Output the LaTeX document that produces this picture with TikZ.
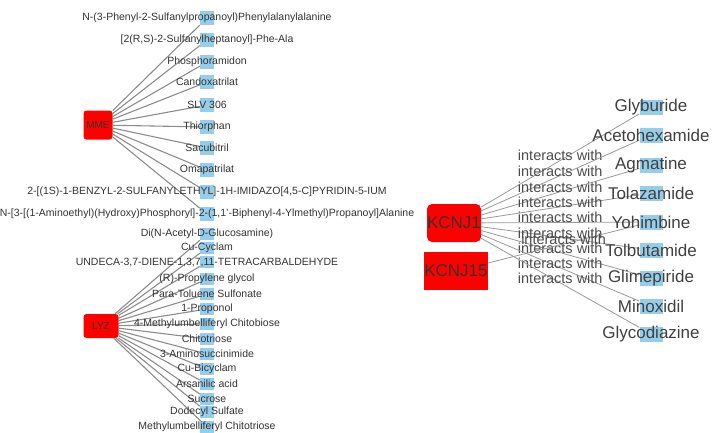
\documentclass[tikz,border=0pt]{standalone}
\usepackage{fontspec}
\setmainfont{Liberation Sans}
\definecolor{tb}{RGB}{150,205,235}
\begin{document}
\begin{tikzpicture}[x=1pt,y=-1pt,
  hub/.style={fill=red,draw=none,rounded corners=3pt,text=black!80,font=\fontsize{10}{10}\selectfont,inner sep=0pt},
  tgt/.style={fill=tb,draw=none,minimum width=14pt,minimum height=14pt,inner sep=0pt},
  tlab/.style={text=black!80,font=\fontsize{10.5}{11}\selectfont,inner sep=0pt},
  tgtR/.style={fill=tb,draw=none,minimum width=23pt,minimum height=15pt,inner sep=0pt},
  tlabR/.style={text=black!75,font=\fontsize{17}{17}\selectfont,inner sep=0pt},
  edge/.style={draw=black!45,line width=1.1pt},
  edgeR/.style={draw=black!40,line width=0.8pt},
  elab/.style={text=black!70,font=\fontsize{14.5}{15}\selectfont,inner sep=0pt,above=-1pt}]
\useasboundingbox (0,0) rectangle (720,432);
% MME
\node[hub,minimum width=29pt,minimum height=29pt] (mme) at (98,125) {MME};
\foreach \i/\y/\t in {1/18/{N-(3-Phenyl-2-Sulfanylpropanoyl)Phenylalanylalanine},
 2/40/{[2(R,S)-2-Sulfanylheptanoyl]-Phe-Ala},3/62/{Phosphoramidon},4/82/{Candoxatrilat},
 5/105/{SLV 306},6/127/{Thiorphan},7/148/{Sacubitril},8/170/{Omapatrilat},
 9/192/{2-[(1S)-1-BENZYL-2-SULFANYLETHYL]-1H-IMIDAZO[4,5-C]PYRIDIN-5-IUM},
 10/214/{N-[3-[(1-Aminoethyl)(Hydroxy)Phosphoryl]-2-(1,1'-Biphenyl-4-Ylmethyl)Propanoyl]Alanine}}{
  \node[tgt] (m\i) at (207,\y) {};
  \draw[edge] (mme) -- (m\i);
}
\foreach \i/\y/\t in {1/18/{N-(3-Phenyl-2-Sulfanylpropanoyl)Phenylalanylalanine},
 2/40/{[2(R,S)-2-Sulfanylheptanoyl]-Phe-Ala},3/62/{Phosphoramidon},4/82/{Candoxatrilat},
 5/105/{SLV 306},6/127/{Thiorphan},7/148/{Sacubitril},8/170/{Omapatrilat},
 9/192/{2-[(1S)-1-BENZYL-2-SULFANYLETHYL]-1H-IMIDAZO[4,5-C]PYRIDIN-5-IUM},
 10/214/{N-[3-[(1-Aminoethyl)(Hydroxy)Phosphoryl]-2-(1,1'-Biphenyl-4-Ylmethyl)Propanoyl]Alanine}}{
  \node[tlab] (ml\i) at (m\i) {\t};
}
% LYZ
\node[hub,minimum width=35pt,minimum height=24pt] (lyz) at (101,326) {LYZ};
\foreach \i/\y/\t in {1/234/{Di(N-Acetyl-D-Glucosamine)},2/248/{Cu-Cyclam},
 3/262/{UNDECA-3,7-DIENE-1,3,7,11-TETRACARBALDEHYDE},4/279/{(R)-Propylene glycol},
 5/294/{Para-Toluene Sulfonate},6/309/{1-Proponol},7/324/{4-Methylumbelliferyl Chitobiose},
 8/339/{Chitotriose},9/354/{3-Aminosuccinimide},10/369/{Cu-Bicyclam},11/384/{Arsanilic acid},
 12/399/{Sucrose},13/412/{Dodecyl Sulfate},14/427/{Methylumbelliferyl Chitotriose}}{
  \node[tgt,minimum height=12pt] (l\i) at (207,\y) {};
  \draw[edge] (lyz) -- (l\i);
}
\foreach \i/\y/\t in {1/234/{Di(N-Acetyl-D-Glucosamine)},2/248/{Cu-Cyclam},
 3/262/{UNDECA-3,7-DIENE-1,3,7,11-TETRACARBALDEHYDE},4/279/{(R)-Propylene glycol},
 5/294/{Para-Toluene Sulfonate},6/309/{1-Proponol},7/324/{4-Methylumbelliferyl Chitobiose},
 8/339/{Chitotriose},9/354/{3-Aminosuccinimide},10/369/{Cu-Bicyclam},11/384/{Arsanilic acid},
 12/399/{Sucrose},13/412/{Dodecyl Sulfate},14/427/{Methylumbelliferyl Chitotriose}}{
  \node[tlab] (ll\i) at (l\i) {\t};
}
% KCNJ
\node[hub,minimum width=54pt,minimum height=38pt,rounded corners=5pt,font=\fontsize{17}{17}\selectfont] (k1) at (454,223) {KCNJ1};
\node[hub,minimum width=54pt,minimum height=38pt,rounded corners=0pt,font=\fontsize{17}{17}\selectfont] (k15) at (456,271) {KCNJ15};
\foreach \i/\y in {1/107,2/135,3/165,4/193,5/222,6/250,7/278,8/306,9/334}{
  \node[tgtR] (r\i) at (651,\y) {};
  \draw[edgeR] (k1) -- node[elab] {interacts with} (r\i);
}
\draw[edgeR] (k15) -- node[elab] {interacts with} (r5);
\foreach \i/\t in {1/Glyburide,2/Acetohexamide,3/Agmatine,4/Tolazamide,5/Yohimbine,6/Tolbutamide,7/Glimepiride,8/Minoxidil,9/Glycodiazine}{
  \node[tlabR] (rl\i) at (r\i) {\t};
}
\end{tikzpicture}
\end{document}
